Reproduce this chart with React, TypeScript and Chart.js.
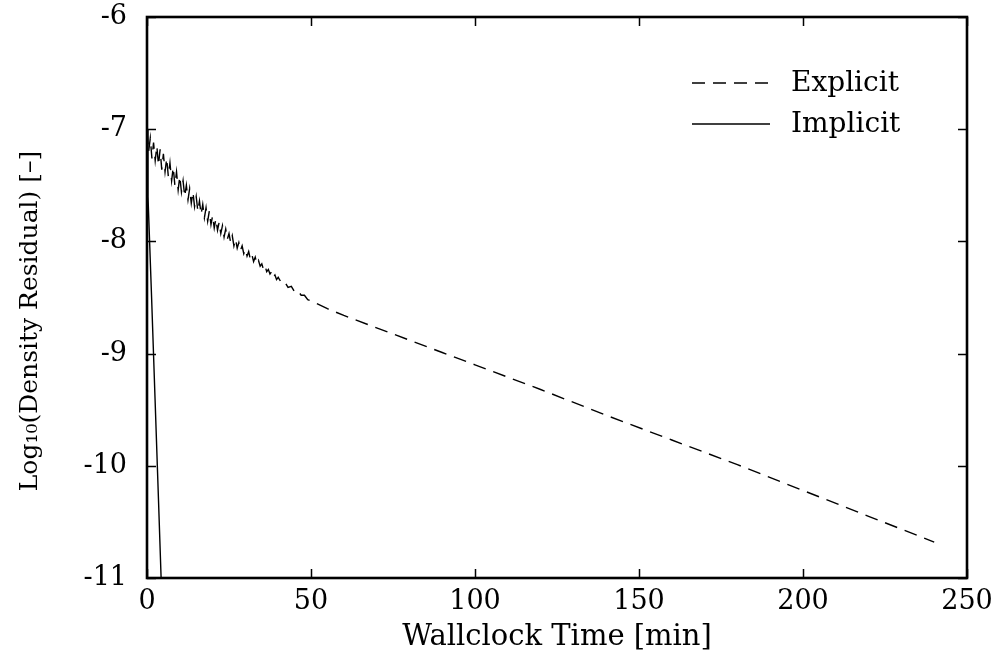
import React, { useEffect, useRef } from "react";
import { Chart, registerables } from "chart.js";

Chart.register(...registerables);

const FONT = "'DejaVu Serif', 'Liberation Serif', serif";

const xTickValues = [0, 50, 100, 150, 200, 250];
const yTickValues = [-11, -10, -9, -8, -7, -6];
const xTitle = "Wallclock Time [min]";
const yTitle = "Log\u2081\u2080(Density Residual) [\u2013]";

const seriesLabels = ["Explicit", "Implicit"];

const explicitX = [
  0, 0.5, 1, 1.5, 2, 2.5, 3, 3.5, 4, 4.5, 5, 5.5, 6, 6.5, 7, 7.5, 8, 8.5, 9, 9.5,
  10, 10.5, 11, 11.5, 12, 12.5, 13, 13.5, 14, 14.5, 15, 15.5, 16, 16.5, 17, 17.5,
  18, 18.5, 19, 19.5, 20, 20.5, 21, 21.5, 22, 22.5, 23, 23.5, 24, 24.5, 25, 25.5,
  26, 26.5, 27, 27.5, 28, 28.5, 29, 29.5, 30, 30.5, 31, 31.5, 32, 32.5, 33, 33.5,
  34, 34.5, 35, 35.5, 36, 36.5, 37, 37.5, 38, 38.5, 39, 39.5, 40, 41, 42, 43, 44,
  45, 46, 47, 48, 49, 50, 55, 60, 70, 80, 90, 100, 120, 140, 160, 180, 200, 220, 240,
];
const explicitY = [
  -7.02, -7.2, -7.08, -7.26, -7.12, -7.28, -7.15, -7.32, -7.18, -7.36, -7.22, -7.38,
  -7.26, -7.42, -7.3, -7.46, -7.34, -7.5, -7.38, -7.54, -7.42, -7.56, -7.46, -7.6,
  -7.5, -7.63, -7.53, -7.66, -7.56, -7.69, -7.6, -7.73, -7.64, -7.76, -7.67, -7.79,
  -7.7, -7.82, -7.73, -7.85, -7.77, -7.88, -7.8, -7.9, -7.83, -7.93, -7.86, -7.96,
  -7.89, -7.98, -7.93, -8.01, -7.95, -8.04, -7.98, -8.06, -8.01, -8.08, -8.04, -8.11,
  -8.07, -8.13, -8.09, -8.16, -8.12, -8.18, -8.14, -8.2, -8.17, -8.22, -8.2, -8.25,
  -8.22, -8.27, -8.25, -8.29, -8.27, -8.32, -8.3, -8.34, -8.32, -8.37, -8.36, -8.41,
  -8.4, -8.45, -8.44, -8.48, -8.48, -8.52, -8.53, -8.6, -8.66, -8.77, -8.88, -8.99,
  -9.1, -9.32, -9.55, -9.77, -9.99, -10.22, -10.45, -10.68,
];

const implicitX = [0, 0.3, 1.4, 2.45, 3.5, 4.3];
const implicitY = [-7.0, -7.6, -8.5, -9.4, -10.3, -11.0];

const W = 1000;
const H = 660;

const framePlugin = {
  id: "gnuplotFrame",
  afterDatasetsDraw(chart: any) {
    const { ctx, chartArea, scales } = chart;
    const { left, right, top, bottom } = chartArea;
    ctx.save();
    ctx.strokeStyle = "#000";
    ctx.lineWidth = 1.5;
    const tl = 9;
    ctx.beginPath();
    xTickValues.forEach((v) => {
      const px = Math.round(scales.x.getPixelForValue(v)) + 0.5;
      ctx.moveTo(px, bottom);
      ctx.lineTo(px, bottom - tl);
      ctx.moveTo(px, top);
      ctx.lineTo(px, top + tl);
    });
    yTickValues.forEach((v) => {
      const py = Math.round(scales.y.getPixelForValue(v)) + 0.5;
      ctx.moveTo(left, py);
      ctx.lineTo(left + tl, py);
      ctx.moveTo(right, py);
      ctx.lineTo(right - tl, py);
    });
    ctx.stroke();
    ctx.lineWidth = 2.6;
    ctx.strokeRect(left, top, right - left, bottom - top);

    // legend
    const ds = chart.data.datasets;
    const lx0 = 692;
    const lx1 = 770;
    const tx = 791;
    const rows = [83, 124];
    ctx.font = "28px " + FONT;
    ctx.fillStyle = "#000";
    ctx.textBaseline = "middle";
    ctx.textAlign = "left";
    ds.forEach((d: any, i: number) => {
      const y = rows[i];
      ctx.beginPath();
      ctx.lineWidth = d.borderWidth;
      ctx.setLineDash(d.borderDash || []);
      ctx.moveTo(lx0, y);
      ctx.lineTo(lx1, y);
      ctx.stroke();
      ctx.setLineDash([]);
      ctx.fillText(d.label, tx, y + 1);
    });

    // y axis title
    ctx.translate(30, 321);
    ctx.rotate(-Math.PI / 2);
    ctx.font = "25px " + FONT;
    ctx.textAlign = "center";
    ctx.textBaseline = "middle";
    ctx.fillText(yTitle, 0, 0);
    ctx.restore();
  },
};

export default function App() {
  const ref = useRef<HTMLCanvasElement>(null);

  useEffect(() => {
    document.body.style.margin = "0";
    const canvas = ref.current;
    if (!canvas) return;
    const chart = new Chart(canvas, {
      type: "line",
      data: {
        datasets: [
          {
            label: seriesLabels[0],
            data: explicitX.map((x, i) => ({ x, y: explicitY[i] })),
            borderColor: "#000",
            borderWidth: 1.4,
            borderDash: [13, 8],
            pointRadius: 0,
            fill: false,
            tension: 0,
          },
          {
            label: seriesLabels[1],
            data: implicitX.map((x, i) => ({ x, y: implicitY[i] })),
            borderColor: "#000",
            borderWidth: 1.4,
            pointRadius: 0,
            fill: false,
            tension: 0,
          },
        ],
      },
      options: {
        responsive: false,
        animation: false,
        devicePixelRatio: 1,
        layout: { padding: { left: 0, right: 33, top: 17, bottom: 0 } },
        plugins: { legend: { display: false }, tooltip: { enabled: false } },
        scales: {
          x: {
            type: "linear",
            min: 0,
            max: 250,
            afterBuildTicks: (scale: any) => {
              scale.ticks = xTickValues.map((v) => ({ value: v }));
            },
            ticks: {
              color: "#000",
              font: { family: FONT, size: 27 },
              padding: 8,
              maxRotation: 0,
            },
            grid: { display: false, drawTicks: false },
            border: { display: false },
            title: {
              display: true,
              text: xTitle,
              color: "#000",
              font: { family: FONT, size: 29 },
              padding: { top: 0, bottom: 5 },
            },
            afterFit: (scale: any) => {
              scale.height = 82;
              scale.paddingLeft = 0;
              scale.paddingRight = 0;
            },
          },
          y: {
            type: "linear",
            min: -11,
            max: -6,
            afterBuildTicks: (scale: any) => {
              scale.ticks = yTickValues.map((v) => ({ value: v }));
            },
            ticks: {
              color: "#000",
              font: { family: FONT, size: 27 },
              padding: 20,
            },
            grid: { display: false, drawTicks: false },
            border: { display: false },
            title: { display: false },
            afterFit: (scale: any) => {
              scale.width = 147;
              scale.paddingTop = 0;
              scale.paddingBottom = 0;
            },
          },
        },
      },
      plugins: [framePlugin],
    });
    return () => chart.destroy();
  }, []);

  return (
    <div style={{ position: "absolute", left: 0, top: 0, width: W, height: H, background: "#fff" }}>
      <canvas ref={ref} width={W} height={H} style={{ width: W, height: H, display: "block" }} />
    </div>
  );
}
